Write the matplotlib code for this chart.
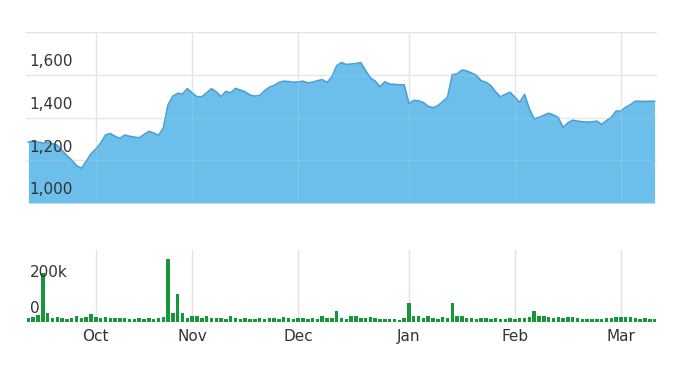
import matplotlib.pyplot as plt

# closing price per trading day (index 0..130)
price = [1285, 1288, 1285, 1280, 1282, 1278, 1270, 1245, 1222, 1200,
         1175, 1162, 1195, 1230, 1252, 1280, 1318, 1325, 1312, 1302,
         1318, 1312, 1308, 1305, 1320, 1335, 1328, 1316, 1350, 1460,
         1500, 1513, 1510, 1535, 1515, 1497, 1497, 1515, 1535, 1520,
         1497, 1522, 1515, 1536, 1528, 1520, 1505, 1500, 1503, 1525,
         1541, 1550, 1564, 1570, 1568, 1565, 1566, 1570, 1562, 1565,
         1572, 1577, 1564, 1590, 1642, 1657, 1648, 1650, 1652, 1657,
         1620, 1585, 1570, 1544, 1567, 1556, 1555, 1553, 1553, 1465,
         1480, 1478, 1470, 1452, 1446, 1455, 1474, 1494, 1600, 1604,
         1622, 1618, 1608, 1597, 1572, 1565, 1549, 1520, 1497, 1508,
         1518, 1495, 1471, 1508, 1440, 1394, 1400, 1410, 1420, 1412,
         1400, 1353, 1375, 1387, 1383, 1380, 1378, 1380, 1383, 1368,
         1385, 1400, 1430, 1430, 1448, 1460, 1476, 1476, 1475, 1476,
         1476]

# volume in thousands
volume = [23, 26, 40, 270, 48, 23, 28, 23, 18, 23,
          33, 23, 28, 45, 28, 23, 28, 23, 20, 23,
          23, 18, 16, 20, 18, 20, 18, 23, 28, 350,
          50, 155, 50, 23, 33, 33, 20, 33, 23, 20,
          23, 18, 33, 20, 18, 20, 18, 18, 23, 18,
          20, 23, 18, 28, 20, 18, 20, 23, 18, 20,
          18, 33, 20, 23, 60, 23, 18, 36, 36, 20,
          23, 28, 20, 18, 16, 18, 16, 12, 23, 105,
          36, 35, 23, 35, 20, 18, 28, 23, 105, 33,
          35, 23, 20, 18, 23, 20, 18, 20, 16, 18,
          20, 18, 23, 20, 28, 60, 36, 36, 28, 23,
          28, 20, 28, 28, 20, 18, 18, 18, 16, 18,
          23, 20, 28, 28, 26, 28, 23, 18, 23, 18,
          16]

months = ['Oct', 'Nov', 'Dec', 'Jan', 'Feb', 'Mar']
month_idx = [14, 34, 56, 79, 101, 123]

price_ticks = [1000, 1200, 1400, 1600, 1800]
price_labels = ['1,000', '1,200', '1,400', '1,600', '']
vol_ticks = [0, 200]
vol_labels = ['0', '200k']

x = list(range(len(price)))
grid_c = '#e3e3e3'
text_c = '#333333'

fig = plt.figure(figsize=(6.77, 3.70), dpi=100)
W, H = 677, 370
left, right = 26 / W, 657 / W
ax1 = fig.add_axes([left, 1 - 203 / H, right - left, 171 / H])
ax2 = fig.add_axes([left, 1 - 322 / H, right - left, 72 / H])

# price panel
ax1.fill_between(x, price, 1000, color='#6cbeeb', lw=0, zorder=2)
ax1.plot(x, price, color='#4a9fd6', lw=1.2, zorder=3)
ax1.set_ylim(1000, 1800)
ax1.set_xlim(-0.5, len(price) - 0.5)
for t, lab in zip(price_ticks, price_labels):
    ax1.axhline(t, color=grid_c, lw=1, zorder=1)
    ax1.annotate(lab, (0.006, t), xycoords=('axes fraction', 'data'),
                 xytext=(0, 4), textcoords='offset points',
                 va='bottom', ha='left', fontsize=11, color=text_c, zorder=5)
for m in month_idx:
    ax1.axvline(m, color=grid_c, lw=1, zorder=1)
# gridlines faintly visible through the area
for t in price_ticks[1:4]:
    ax1.axhline(t, color='#ffffff', lw=1, alpha=0.12, zorder=4)
for m in month_idx:
    ax1.axvline(m, color='#ffffff', lw=1, alpha=0.12, zorder=4)

# volume panel
ax2.bar(x, volume, width=0.72, color='#16973a', zorder=2)
ax2.set_ylim(0, 400)
ax2.set_xlim(-0.5, len(price) - 0.5)
for m in month_idx:
    ax2.axvline(m, color=grid_c, lw=1, zorder=1)
for t, lab in zip(vol_ticks, vol_labels):
    ax2.annotate(lab, (0.006, t), xycoords=('axes fraction', 'data'),
                 xytext=(0, 4), textcoords='offset points',
                 va='bottom', ha='left', fontsize=11, color=text_c, zorder=5)

ax2.set_xticks(month_idx)
ax2.set_xticklabels(months, fontsize=11, color=text_c)
ax2.tick_params(axis='x', length=0, pad=5)

for ax in (ax1, ax2):
    for s in ax.spines.values():
        s.set_visible(False)
    ax.set_yticks([])
ax1.set_xticks([])

fig.savefig('out.png', dpi=100)
